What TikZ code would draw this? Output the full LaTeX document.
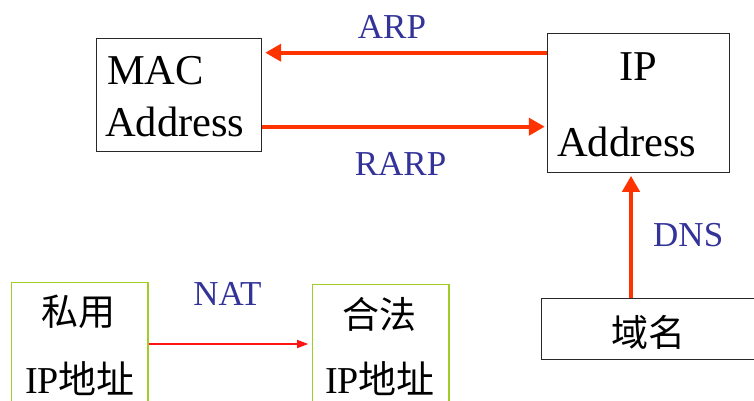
\documentclass[tikz,border=0pt]{standalone}
\usepackage{fontspec}
\setmainfont{Liberation Serif}
\newfontfamily\cjk{Noto Sans CJK SC}
\usetikzlibrary{arrows.meta}
\definecolor{arrred}{RGB}{255,51,0}
\definecolor{natred}{RGB}{255,20,20}
\definecolor{lblue}{RGB}{51,51,153}
\definecolor{boxgreen}{RGB}{160,205,40}
\definecolor{boxgray}{RGB}{40,40,40}
\tikzset{
  box/.style={draw=boxgray, line width=1pt, inner sep=0pt},
  gbox/.style={draw=boxgreen, line width=1.2pt, inner sep=0pt},
  txt/.style={inner sep=0pt, font=\rmfamily\fontsize{42.5}{50}\selectfont},
  ctxt/.style={inner sep=0pt, font=\fontsize{37}{44}\selectfont},
  lbl/.style={inner sep=0pt, text=lblue, font=\rmfamily\fontsize{35}{42}\selectfont},
  bigarr/.style={draw=arrred, line width=4pt, -{Triangle[length=16pt,width=17pt]}},
  natarr/.style={draw=natred, line width=1.3pt, -{Triangle[length=11pt,width=8pt]}},
}
\begin{document}
\begin{tikzpicture}[x=1pt,y=-1pt]
\useasboundingbox (0,0) rectangle (754,400);
\clip (0,0) rectangle (754,400);
% boxes
\node[box, minimum width=165pt, minimum height=113.4pt] (mac) at (179.2,95) {};
\node[box, minimum width=182pt, minimum height=139pt] (ip) at (638.3,102.8) {};
\node[box, minimum width=220pt, minimum height=61pt, anchor=north west] (dom) at (540.7,298) {};
\node[gbox, minimum width=136.6pt, minimum height=130pt, anchor=north west] (priv) at (10.7,281.7) {};
\node[gbox, minimum width=136.6pt, minimum height=130pt, anchor=north west] (legal) at (311.7,284) {};
% texts
\node[txt, anchor=base west] (mac1) at (107,84) {MAC};
\node[txt, anchor=base west] (mac2) at (105,136.7) {Address};
\node[txt, anchor=base] (ip1) at (638.5,80) {IP};
\node[txt, anchor=base west] (ip2) at (557,156.7) {Address};
\node[ctxt] (domt) at (648.5,332) {\cjk 域名};
\node[ctxt] (priv1) at (78,312) {\cjk 私用};
\node[ctxt, anchor=base] (priv2) at (80,393) {\rmfamily\fontsize{38}{44}\selectfont IP\cjk 地址};
\node[ctxt] (legal1) at (379,314) {\cjk 合法};
\node[ctxt, anchor=base] (legal2) at (380,393) {\rmfamily\fontsize{38}{44}\selectfont IP\cjk 地址};
% labels
\node[lbl, anchor=base] (arp) at (392,38) {ARP};
\node[lbl, anchor=base] (rarp) at (400.5,175.7) {RARP};
\node[lbl, anchor=base west] (dns) at (653,246.7) {DNS};
\node[lbl, anchor=base] (nat) at (227.5,305) {NAT};
% connectors
\draw[bigarr, shorten >=3pt] (ip.west |- 0,52.7) -- (mac.east |- 0,52.7);
\draw[bigarr, shorten >=2pt] (mac.east |- 0,126.7) -- (ip.west |- 0,126.7);
\draw[bigarr, shorten >=3pt] (dom.north -| 631,0) -- (ip.south -| 631,0);
\draw[natarr, shorten >=3.5pt] (priv.east |- 0,344) -- (legal.west |- 0,344);
\end{tikzpicture}
\end{document}
